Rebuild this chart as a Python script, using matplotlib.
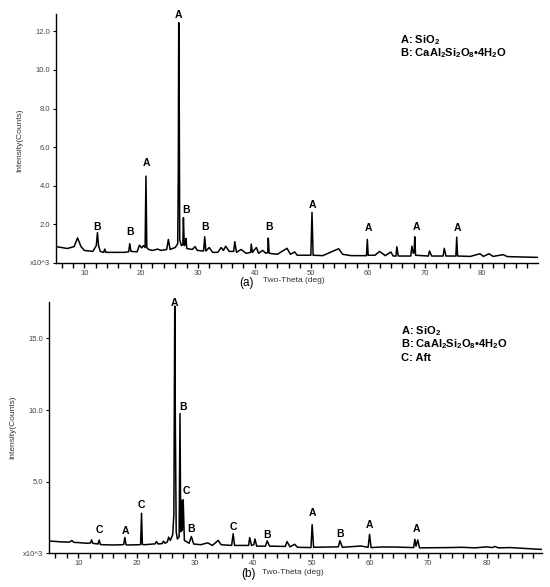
import matplotlib
matplotlib.use("Agg")
import matplotlib.pyplot as plt

plt.rcParams['font.family'] = ['Liberation Sans', 'DejaVu Sans']
plt.rcParams['mathtext.fontset'] = 'custom'
plt.rcParams['mathtext.rm'] = 'Liberation Sans'
plt.rcParams['mathtext.bf'] = 'Liberation Sans:bold'

# pattern (a): traced points, two-theta (deg) vs counts (x10^3)
tt_a = [5.0, 7.0, 8.2, 8.8, 9.4, 10.0, 11.5, 12.1, 12.3, 12.5, 12.8, 13.4, 13.6, 13.8, 14.5,
        17.0, 17.8, 18.0, 18.2, 19.3, 19.7, 20.1, 20.4, 20.7, 20.85, 21.0, 21.3, 22.0,
        22.9, 23.5, 24.5, 24.8, 25.1, 26.0, 26.45, 26.55, 26.62, 26.68, 26.8, 27.1,
        27.35, 27.45, 27.6, 27.8, 27.9, 28.05, 29.0, 29.5, 29.9, 31.0, 31.2, 31.4, 32.0,
        32.6, 33.5, 34.1, 34.5, 34.9, 35.5, 36.3, 36.5, 36.8, 37.6, 38.5, 39.3, 39.4,
        39.6, 40.3, 40.7, 41.4, 42.0, 42.3, 42.4, 42.55, 44.0, 45.7, 46.3, 47.05, 47.5,
        49.9, 50.1, 50.3, 52.0, 54.8, 55.5, 57.0, 59.7, 59.85, 60.0, 61.2, 62.0, 63.0,
        64.0, 64.4, 64.9, 65.05, 65.3, 67.5, 67.7, 67.95, 68.1, 68.2, 68.35, 70.6, 70.8,
        71.2, 73.2, 73.4, 73.7, 75.45, 75.6, 75.75, 78.0, 79.7, 80.3, 81.3, 82.0, 83.8,
        84.5, 89.8]
cnt_a = [0.85, 0.75, 0.85, 1.30, 0.85, 0.65, 0.60, 0.90, 1.57, 0.90, 0.60, 0.55, 0.72,
         0.55, 0.55, 0.55, 0.58, 1.00, 0.60, 0.58, 0.92, 0.78, 0.90, 0.80, 4.50, 0.80,
         0.70, 0.65, 0.72, 0.65, 0.70, 1.22, 0.70, 0.80, 1.00, 4.86, 12.45, 11.05, 1.20,
         0.90, 0.95, 2.35, 0.90, 0.95, 1.27, 0.75, 0.70, 0.85, 0.65, 0.62, 1.36, 0.62,
         0.80, 0.55, 0.55, 0.80, 0.65, 0.87, 0.60, 0.60, 1.10, 0.55, 0.70, 0.50, 0.55,
         0.98, 0.55, 0.80, 0.50, 0.65, 0.50, 0.55, 1.29, 0.50, 0.45, 0.76, 0.45, 0.57,
         0.40, 0.40, 2.62, 0.40, 0.38, 0.74, 0.45, 0.38, 0.38, 1.22, 0.40, 0.40, 0.60,
         0.38, 0.57, 0.36, 0.36, 0.84, 0.36, 0.36, 0.87, 0.50, 0.55, 1.36, 0.40, 0.36,
         0.62, 0.36, 0.36, 0.76, 0.36, 0.36, 1.34, 0.36, 0.34, 0.48, 0.34, 0.48, 0.34,
         0.43, 0.33, 0.29]

# pattern (b)
tt_b = [5.0, 7.0, 8.5, 8.9, 9.3, 10.0, 11.5, 12.1, 12.3, 12.5, 12.8, 13.4, 13.6, 13.8,
        14.2, 16.0, 17.5, 17.8, 18.0, 18.2, 18.5, 20.5, 20.7, 20.86, 21.0, 21.3, 22.0,
        23.2, 23.4, 23.7, 24.4, 24.6, 24.9, 25.3, 25.5, 25.8, 26.2, 26.4, 26.55, 26.65,
        26.8, 27.0, 27.3, 27.45, 27.58, 27.72, 27.85, 28.0, 28.2, 29.0, 29.4, 29.8, 31.0,
        32.2, 33.0, 34.0, 34.5, 36.3, 36.56, 36.8, 39.2, 39.4, 39.7, 40.1, 40.3, 40.6,
        42.1, 42.4, 42.8, 45.5, 45.8, 46.3, 47.1, 47.6, 49.9, 50.1, 50.35, 54.6, 54.85,
        55.3, 58.45, 59.7, 59.94, 60.2, 62.0, 64.0, 67.5, 67.7, 67.9, 68.2, 68.5, 73.5,
        75.7, 78.0, 80.0, 81.0, 81.4, 82.0, 84.0, 89.5]
cnt_b = [0.86, 0.80, 0.78, 0.89, 0.76, 0.75, 0.70, 0.72, 0.93, 0.70, 0.68, 0.65, 0.93,
         0.62, 0.60, 0.58, 0.60, 0.62, 1.10, 0.60, 0.58, 0.60, 0.62, 2.80, 0.62, 0.60,
         0.62, 0.66, 0.82, 0.65, 0.68, 0.85, 0.70, 0.80, 1.13, 0.90, 1.30, 2.70, 17.25,
         9.30, 1.50, 1.00, 1.15, 9.75, 1.50, 3.70, 1.60, 3.75, 0.90, 0.70, 1.17, 0.65,
         0.60, 0.73, 0.55, 0.90, 0.60, 0.55, 1.36, 0.55, 0.55, 1.10, 0.55, 0.60, 1.00,
         0.50, 0.50, 0.87, 0.50, 0.48, 0.82, 0.45, 0.63, 0.42, 0.40, 2.00, 0.42, 0.45,
         0.88, 0.42, 0.51, 0.42, 1.32, 0.40, 0.44, 0.44, 0.40, 0.98, 0.50, 0.93, 0.38,
         0.40, 0.42, 0.38, 0.45, 0.40, 0.48, 0.38, 0.40, 0.27]

# phase labels: (letter, two-theta, height)
lab_a = ["B", "B", "A", "A", "B", "B", "B", "A", "A", "A", "A"]
lab_a_x = [12.3, 18.0, 20.9, 26.62, 28.0, 31.3, 42.55, 50.2, 60.1, 68.5, 75.8]
lab_a_y = [1.88, 1.62, 5.16, 12.83, 2.76, 1.88, 1.88, 3.02, 1.81, 1.85, 1.80]

lab_b = ["C", "A", "C", "A", "B", "C", "B", "C", "B", "A", "B", "A", "A"]
lab_b_x = [13.6, 18.1, 20.75, 26.57, 27.9, 28.58, 29.43, 36.57, 42.29, 50.17, 54.85, 59.87, 68.0]
lab_b_y = [1.63, 1.58, 3.37, 17.5, 10.19, 4.33, 1.67, 1.81, 1.26, 2.79, 1.35, 1.97, 1.67]

legend_a = [r"A: SiO$_\mathbf{2}$",
            r"B: CaAl$_\mathbf{2}$Si$_\mathbf{2}$O$_\mathbf{8}$•4H$_\mathbf{2}$O"]
legend_b = legend_a + ["C: Aft"]

yt_a = [0, 2, 4, 6, 8, 10, 12]
yt_b = [0, 5, 10, 15]


def style_axes(ax, xlim, ylim, yticks):
    ax.set_xlim(*xlim)
    ax.set_ylim(*ylim)
    for s in ['top', 'right']:
        ax.spines[s].set_visible(False)
    for s in ['left', 'bottom']:
        ax.spines[s].set_linewidth(1.0)
    ax.set_xticks(range(6, 90, 2))
    ax.set_xticklabels([str(v) if v % 10 == 0 else "" for v in range(6, 90, 2)])
    ax.set_yticks(yticks)
    ax.set_yticklabels(["x10^3"] + ["%.1f" % v for v in yticks[1:]])
    ax.tick_params(axis='x', direction='out', length=3.5, width=1.0, labelsize=5.5,
                   pad=1.5, labelcolor='#444444')
    ax.tick_params(axis='y', direction='out', length=2.5, width=0.8, labelsize=5.5,
                   pad=1.5, labelcolor='#444444')


fig = plt.figure(figsize=(5.5, 5.87), dpi=100)

ax1 = fig.add_axes([0.1018, 0.5520, 0.8762, 0.4241])
ax1.plot(tt_a, cnt_a, color='black', lw=1.1)
style_axes(ax1, (5, 89.9), (0, 12.9), yt_a)
for t, x, y in zip(lab_a, lab_a_x, lab_a_y):
    ax1.text(x, y, t, ha='center', va='center', fontsize=7.5, fontweight='bold', clip_on=False)
for i, s in enumerate(legend_a):
    fig.text(400 / 550, 1 - (40 + 13.3 * i) / 587, s, ha='left', va='center',
             fontsize=8, fontweight='bold')

ax2 = fig.add_axes([0.0891, 0.0574, 0.8964, 0.4286])
ax2.plot(tt_b, cnt_b, color='black', lw=1.1)
style_axes(ax2, (5, 89.5), (0, 17.56), yt_b)
for t, x, y in zip(lab_b, lab_b_x, lab_b_y):
    ax2.text(x, y, t, ha='center', va='center', fontsize=7.5, fontweight='bold', clip_on=False)
for i, s in enumerate(legend_b):
    fig.text(401 / 550, 1 - (330.7 + 13.8 * i) / 587, s, ha='left', va='center',
             fontsize=8, fontweight='bold')

# axis titles
fig.text(20 / 550, 1 - 140 / 587, "Intensity(Counts)", rotation=90, ha='center', va='center',
         fontsize=6, color='#333333')
fig.text(13 / 550, 1 - 427 / 587, "Intensity(Counts)", rotation=90, ha='center', va='center',
         fontsize=6, color='#333333')
fig.text(246 / 550, 1 - 283 / 587, "(a)", ha='center', va='center', fontsize=8.5)
fig.text(263 / 550, 1 - 281 / 587, "Two-Theta (deg)", ha='left', va='center', fontsize=6,
         color='#333333')
fig.text(248 / 550, 1 - 574 / 587, "(b)", ha='center', va='center', fontsize=8.5)
fig.text(262 / 550, 1 - 572 / 587, "Two-Theta (deg)", ha='left', va='center', fontsize=6,
         color='#333333')

fig.savefig("out.png", dpi=100)
